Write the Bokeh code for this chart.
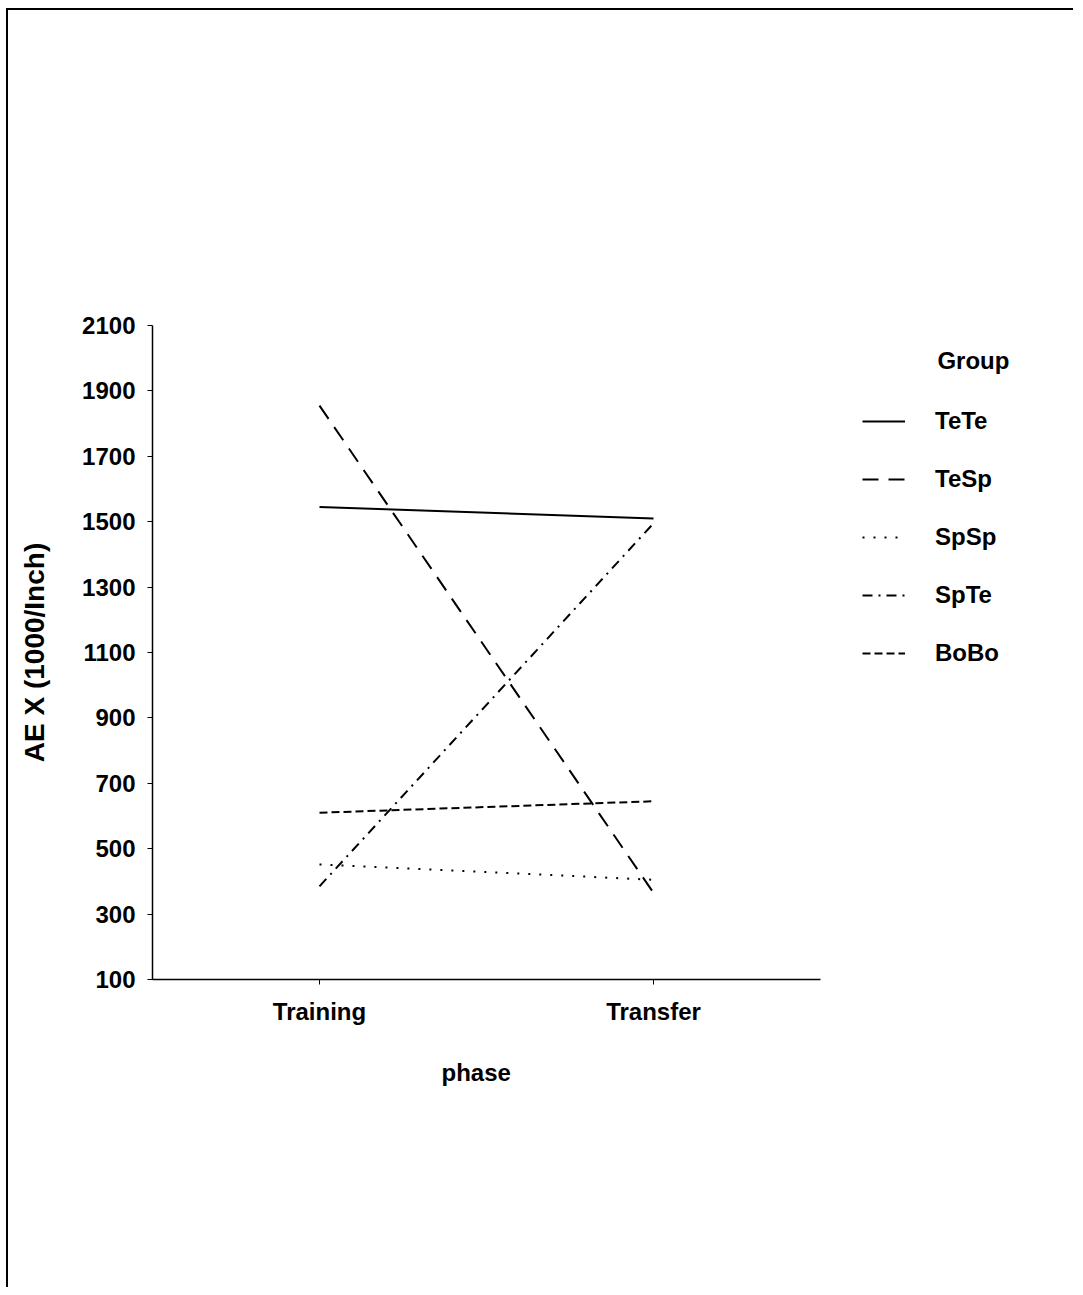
from bokeh.plotting import figure
from bokeh.models import Range1d, Legend, LegendItem, Label, FixedTicker, Title
from bokeh.embed import file_html
from bokeh.resources import INLINE

phases = ["Training", "Transfer"]
groups = ["TeTe", "TeSp", "SpSp", "SpTe", "BoBo"]
tete = [1545, 1510]
tesp = [1855, 365]
spsp = [452, 405]
spte = [385, 1495]
bobo = [610, 645]
y_ticks = [100, 300, 500, 700, 900, 1100, 1300, 1500, 1700, 1900, 2100]

series = [tete, tesp, spsp, spte, bobo]
dashes = ["solid", "16 10", "2 9", "10 6 2 6", "8 4"]
xpos = list(range(1, len(phases) + 1))

FONT = "Liberation Sans"
FS = "24px"

p = figure(width=1067, height=1279, output_backend="svg", toolbar_location=None,
           x_range=Range1d(0.5, 0.5 + 923 / 334),
           y_range=Range1d(100, 2100),
           min_border_left=144, min_border_top=315, min_border_right=0,
           min_border_bottom=310)
p.styles = {"border-left": "2px solid black", "border-top": "2px solid black",
            "margin-left": "6px", "margin-top": "8px"}
p.grid.visible = False
p.outline_line_color = None
p.background_fill_color = "white"
p.border_fill_color = "white"

items = []
for name, vals, d in zip(groups, series, dashes):
    r = p.line(x=xpos, y=vals, line_color="black", line_width=2, line_dash=d)
    items.append(LegendItem(label=name, renderers=[r]))

for ax in (p.xaxis[0], p.yaxis[0]):
    ax.axis_line_color = "black"
    ax.axis_line_width = 1.5
    ax.major_tick_line_color = "black"
    ax.major_tick_in = 0
    ax.major_tick_out = 5
    ax.minor_tick_line_color = None
    ax.major_label_text_font = FONT
    ax.major_label_text_font_style = "bold"
    ax.major_label_text_font_size = FS
    ax.major_label_text_color = "black"
    ax.axis_label_text_color = "black"
    ax.axis_label_text_font_style = "bold"

p.yaxis.ticker = FixedTicker(ticks=y_ticks)
p.yaxis.major_label_standoff = 12
p.yaxis.axis_label = "AE X (1000/Inch)"
p.yaxis.axis_label_text_font = FONT
p.yaxis.axis_label_text_font_size = "28px"
p.yaxis.axis_label_standoff = 29

p.xaxis.bounds = (0.5, 2.5)
p.xaxis.ticker = FixedTicker(ticks=xpos)
p.xaxis.major_label_overrides = {x: ph for x, ph in zip(xpos, phases)}
p.xaxis.major_label_standoff = 13

p.add_layout(Title(text="phase", align="left", offset=441 - 152, standoff=58,
                   text_font=FONT, text_font_style="bold", text_font_size=FS,
                   text_color="black"), "below")

legend = Legend(items=items, location=(710, 311),
                glyph_width=43, glyph_height=30, label_standoff=30,
                spacing=28, padding=0, margin=0,
                label_text_font=FONT, label_text_font_style="bold",
                label_text_font_size=FS, label_text_color="black",
                border_line_color=None, background_fill_alpha=0)
p.add_layout(legend, "center")

p.add_layout(Label(x=2.85, y=1993, text="Group", text_font=FONT,
                   text_font_style="bold", text_font_size=FS,
                   text_baseline="middle", text_align="left", text_color="black"))

open("out.html", "w").write(file_html(p, INLINE))
